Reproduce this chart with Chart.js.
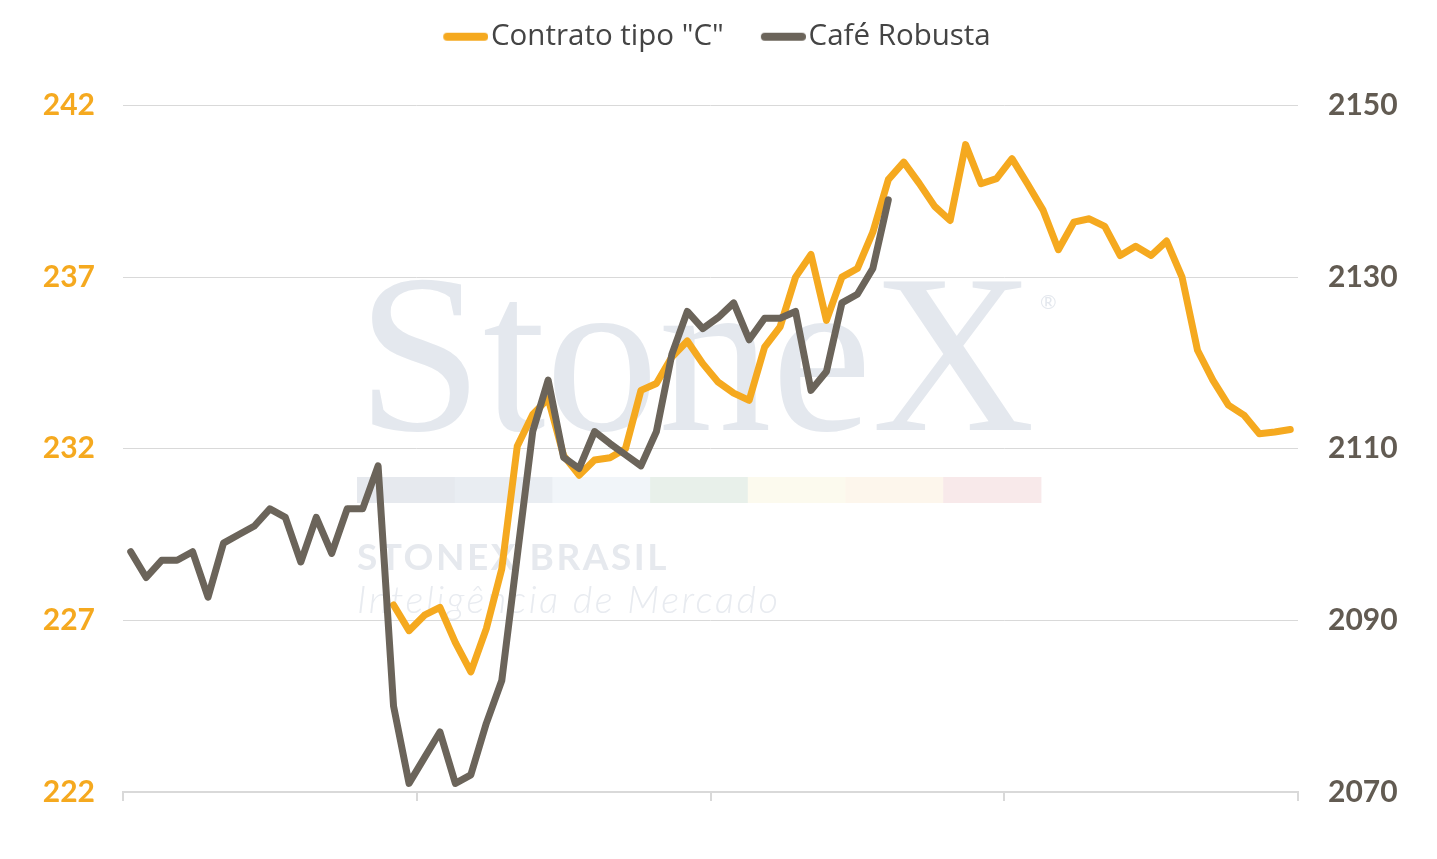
<!DOCTYPE html>
<html lang="pt-BR">
<head>
<meta charset="utf-8">
<title>Contrato tipo "C" x Café Robusta</title>
<script src="https://cdn.jsdelivr.net/npm/chart.js@4/dist/chart.umd.min.js"></script>
<style>
  html, body { margin: 0; padding: 0; background: #fff; }
  #wrap { width: 1437px; height: 859px; }
</style>
</head>
<body>
<div id="wrap"><canvas id="grafico"></canvas></div>
<script>
// Dados (76 pregões, sem rótulos visíveis no eixo X)
const pregoes = [
  "1","2","3","4","5","6","7","8","9","10","11","12","13","14","15","16","17","18","19",
  "20","21","22","23","24","25","26","27","28","29","30","31","32","33","34","35","36","37","38",
  "39","40","41","42","43","44","45","46","47","48","49","50","51","52","53","54","55","56","57",
  "58","59","60","61","62","63","64","65","66","67","68","69","70","71","72","73","74","75","76"
];

// Contrato tipo "C" (eixo esquerdo)
const contratoC = [
  null, null, null, null, null, null, null, null, null, null, null, null, null, null, null, null, null,
  227.45, 226.7, 227.15, 227.38, 226.35, 225.5, 226.76, 228.5, 232.07, 233.0,
  233.46, 231.8, 231.23, 231.67, 231.74, 232.0, 233.7, 233.9, 234.67, 235.14,
  234.48, 233.94, 233.62, 233.41, 234.96, 235.55, 237.0, 237.66, 235.74, 237.0,
  237.25, 238.31, 239.84, 240.35, 239.73, 239.06, 238.65, 240.86, 239.72, 239.87,
  240.45, 239.72, 238.96, 237.8, 238.6, 238.7, 238.48, 237.63, 237.9, 237.63,
  238.05, 237.0, 234.87, 233.99, 233.27, 232.98, 232.44, 232.49, 232.56
];

// Café Robusta (eixo direito)
const cafeRobusta = [
  2098, 2095, 2097, 2097, 2098, 2092.7, 2099, 2100, 2101, 2103,
  2102, 2096.8, 2102, 2097.8, 2103, 2103, 2108, 2080, 2071, 2074,
  2077, 2071, 2072, 2078, 2083, 2097.5, 2112, 2118, 2109, 2107.7,
  2112, 2110.6, 2109.3, 2108, 2112, 2121, 2126, 2124, 2125.3, 2127,
  2122.7, 2125.2, 2125.2, 2126, 2116.8, 2119, 2127, 2128, 2131, 2139,
  null, null, null, null, null, null, null, null, null, null, null, null, null,
  null, null, null, null, null, null, null, null, null, null, null, null, null
];

const eixoEsq = { min: 222, max: 242, passo: 5 };
const eixoDir = { min: 2070, max: 2150, passo: 20 };

const laranja = "#F5A91F";
const cinza = "#6B645A";
const grade = "#d9d9d9";
const fonte = "Lato, 'Open Sans', sans-serif";

// traço da legenda (linha grossa com ponta arredondada, encostada no texto)
function tracoLegenda(cor) {
  const c = document.createElement("canvas");
  c.width = 54;
  c.height = 10;
  const g = c.getContext("2d");
  g.strokeStyle = cor;
  g.lineWidth = 8;
  g.lineCap = "round";
  g.beginPath();
  g.moveTo(13, 5);
  g.lineTo(50, 5);
  g.stroke();
  return c;
}

// Marca d'água StoneX atrás das linhas
const marcaDagua = {
  id: "marcaDagua",
  beforeDatasetsDraw(chart) {
    const ctx = chart.ctx;
    ctx.save();
    ctx.fillStyle = "#e4e8ee";
    ctx.font = "226px 'Liberation Serif', serif";
    ctx.textBaseline = "alphabetic";
    ctx.fillText("StoneX", 357, 430);
    ctx.font = "20px " + fonte;
    ctx.fillText("®", 1040, 309);

    const faixas = ["#e6e9ee", "#e9edf2", "#f1f5f9", "#e8f0ea", "#fcfaee", "#fdf6ec", "#f8e9ea"];
    faixas.forEach((cor, i) => {
      ctx.fillStyle = cor;
      ctx.fillRect(357 + i * 97.7, 477, 98.2, 26);
    });

    ctx.letterSpacing = "2.5px";
    ctx.fillStyle = "#e6e9ee";
    ctx.font = "bold 37px " + fonte;
    ctx.fillText("STONEX BRASIL", 357, 570);
    ctx.fillStyle = "#e8ebf0";
    ctx.font = "italic 300 38px " + fonte;
    ctx.fillText("Inteligência de Mercado", 357, 613);
    ctx.restore();
  }
};

new Chart(document.getElementById("grafico"), {
  type: "line",
  data: {
    labels: pregoes,
    datasets: [
      {
        label: "Café Robusta",
        data: cafeRobusta,
        yAxisID: "yDir",
        borderColor: cinza,
        backgroundColor: cinza,
        borderWidth: 7,
        borderCapStyle: "round",
        borderJoinStyle: "round",
        pointRadius: 0,
        tension: 0
      },
      {
        label: 'Contrato tipo "C"',
        data: contratoC,
        yAxisID: "yEsq",
        borderColor: laranja,
        backgroundColor: laranja,
        borderWidth: 7,
        borderCapStyle: "round",
        borderJoinStyle: "round",
        pointRadius: 0,
        tension: 0
      }
    ]
  },
  options: {
    responsive: true,
    maintainAspectRatio: false,
    animation: false,
    layout: { padding: { top: -18 } },
    plugins: {
      tooltip: { enabled: false },
      legend: {
        position: "top",
        reverse: true,
        labels: {
          usePointStyle: true,
          pointStyleWidth: 30,
          padding: 40,
          color: "#444444",
          font: { family: "'Open Sans', sans-serif", size: 29.5 },
          generateLabels: chart => {
            const itens = Chart.defaults.plugins.legend.labels.generateLabels(chart);
            itens.forEach(it => {
              it.pointStyle = tracoLegenda(chart.data.datasets[it.datasetIndex].borderColor);
            });
            return itens;
          }
        }
      },
      // espaço vazio entre a legenda e a área do gráfico
      title: {
        display: true,
        text: " ",
        weight: 500,
        font: { size: 10, lineHeight: 1 },
        padding: { top: 0, bottom: 34 }
      }
    },
    scales: {
      x: {
        type: "category",
        offset: true,
        ticks: { display: false },
        grid: {
          offset: true,
          drawOnChartArea: false,
          drawTicks: true,
          tickLength: 9,
          lineWidth: 2,
          color: ctx => (ctx.type !== "tick" || ctx.index % 19 === 0) ? grade : "rgba(0,0,0,0)"
        },
        border: { display: true, color: grade, width: 2 },
        afterFit: s => { s.height = 67; }
      },
      yEsq: {
        position: "left",
        min: eixoEsq.min,
        max: eixoEsq.max,
        ticks: {
          stepSize: eixoEsq.passo,
          padding: 28,
          color: laranja,
          font: { family: fonte, size: 30, weight: "bold" },
          callback: v => String(v)
        },
        grid: { color: grade, lineWidth: 1, drawTicks: false },
        border: { display: false },
        afterFit: s => { s.width = 123; }
      },
      yDir: {
        position: "right",
        min: eixoDir.min,
        max: eixoDir.max,
        ticks: {
          stepSize: eixoDir.passo,
          padding: 30,
          color: "#625b52",
          font: { family: fonte, size: 30, weight: "bold" },
          callback: v => String(v)
        },
        grid: { drawOnChartArea: false, drawTicks: false },
        border: { display: false },
        afterFit: s => { s.width = 139; }
      }
    }
  },
  plugins: [marcaDagua]
});
</script>
</body>
</html>
